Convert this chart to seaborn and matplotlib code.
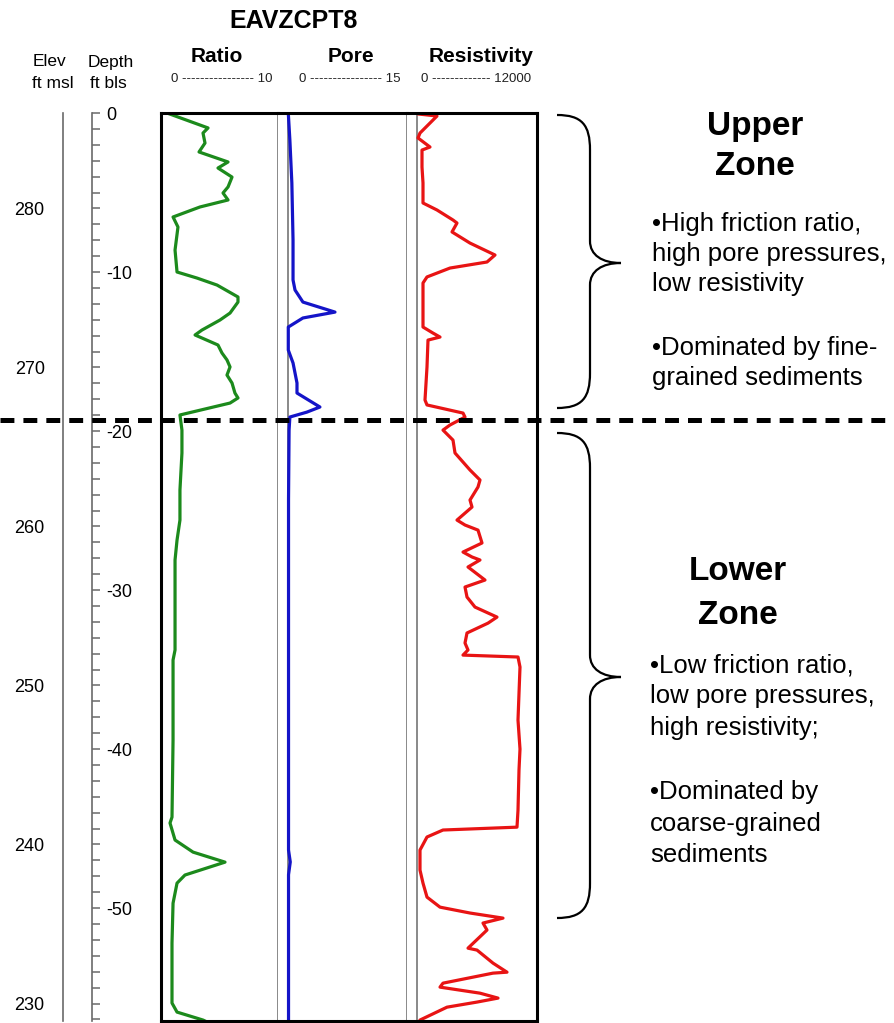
import matplotlib
matplotlib.use("Agg")
import matplotlib.pyplot as plt
import numpy as np
import pandas as pd
import seaborn as sns
from matplotlib.path import Path
from matplotlib.patches import PathPatch
from matplotlib.lines import Line2D
from matplotlib import transforms
from matplotlib.ticker import MultipleLocator, FuncFormatter

# ---------------- CPT log data (depth in ft below land surface) ----------------
ratio_depth = [0.0, -0.94, -1.26, -1.89, -2.45, -3.08, -3.46, -4.03, -4.65, -5.03,
               -5.47, -5.91, -6.54, -7.17, -8.62, -10.0, -10.38, -10.82, -11.57, -11.89,
               -12.58, -13.02, -13.65, -13.96, -14.59, -15.09, -15.53, -15.97, -16.48, -16.98,
               -17.61, -17.92, -18.24, -18.99, -19.94, -21.38, -23.71, -25.60, -26.86, -28.11,
               -33.77, -34.40, -39.43, -44.28, -44.65, -45.72, -46.48, -47.11, -47.92, -48.43,
               -49.69, -52.20, -55.97, -56.54, -57.04, -57.40]
ratio_vals = [0.51, 4.02, 3.59, 3.76, 3.25, 5.73, 4.87, 6.07, 5.73, 5.30,
              5.73, 3.33, 1.03, 1.45, 1.20, 1.37, 3.08, 4.79, 6.58, 6.58,
              5.90, 5.04, 3.50, 2.91, 4.87, 5.21, 5.64, 5.90, 5.64, 6.07,
              6.32, 6.58, 5.90, 1.62, 1.79, 1.79, 1.62, 1.62, 1.37, 1.20,
              1.20, 1.03, 1.03, 0.94, 0.77, 1.20, 2.74, 5.47, 2.05, 1.37,
              1.03, 0.94, 0.94, 1.37, 3.59, 4.60]

pore_depth = [0.0, -1.70, -4.40, -7.99, -10.50, -11.13, -11.89, -12.52, -12.89, -13.46,
              -14.91, -15.72, -16.98, -17.61, -18.49, -18.81, -19.12, -19.94, -24.30, -46.35,
              -47.10, -47.90, -57.40]
pore_vals = [0.0, 0.2, 0.45, 0.6, 0.6, 0.85, 1.85, 5.9, 1.85, 0.0,
             0.0, 0.6, 1.1, 1.1, 4.0, 2.35, 0.2, 0.1, 0.03, 0.03,
             0.25, 0.03, 0.03]

res_depth = [-0.06, -0.19, -1.26, -1.57, -2.14, -2.33, -3.40, -4.40, -5.66, -6.10,
             -6.73, -6.92, -7.48, -8.18, -8.93, -9.37, -9.75, -10.31, -10.69, -13.46,
             -13.84, -14.09, -14.28, -15.97, -18.05, -18.36, -18.87, -19.12, -19.62, -19.94,
             -20.57, -21.38, -22.45, -23.08, -23.52, -24.34, -24.78, -25.60, -25.91, -26.23,
             -27.04, -27.61, -27.92, -28.11, -28.55, -29.37, -29.81, -30.44, -31.07, -31.70,
             -32.08, -32.70, -33.33, -33.77, -34.09, -34.21, -34.84, -36.50, -38.18, -40.00,
             -41.32, -43.84, -44.91, -45.09, -45.53, -46.35, -47.61, -48.43, -49.31, -49.94,
             -50.31, -50.63, -50.94, -51.38, -52.52, -52.64, -53.46, -54.03, -54.09, -54.72,
             -54.97, -55.35, -55.66, -55.91, -56.23, -57.04, -57.40]
res_vals = [100, 2000, 300, 100, 1300, 500, 500, 600, 600, 2000,
            3600, 4000, 3500, 5300, 7800, 7000, 3300, 1000, 600, 600,
            1600, 2300, 1100, 1000, 800, 1000, 4600, 4800, 3300, 2600,
            3600, 3800, 5300, 6300, 6100, 5300, 5500, 4000, 4800, 6100,
            6500, 4600, 5500, 6300, 5100, 6800, 4800, 5000, 5800, 8000,
            7100, 5000, 4800, 5100, 4600, 10100, 10300, 10200, 10100, 10300,
            10200, 10100, 10000, 2600, 1000, 300, 300, 600, 1000, 2300,
            5300, 8600, 6600, 7000, 5100, 6000, 7600, 9000, 7600, 2600,
            2300, 6300, 8100, 6000, 3000, 300, 100]

track_titles = ["Ratio", "Pore", "Resistivity"]
track_scales = ["0 " + "-" * 16 + " 10", "0 " + "-" * 16 + " 15", "0 " + "-" * 13 + " 12000"]
surface_elev = 286.0      # ft msl at depth 0
zone_boundary = -19.3     # ft bls
depth_bottom = -57.1

upper_lines = ["\u2022High friction ratio,", "high pore pressures,", "low resistivity",
               "\u2022Dominated by fine-", "grained sediments"]
lower_lines = ["\u2022Low friction ratio,", "low pore pressures,", "high resistivity;",
               "\u2022Dominated by", "coarse-grained", "sediments"]

# ---------------- styling ----------------
sns.set_theme(style="white")
plt.rcParams["font.family"] = ["Liberation Sans", "DejaVu Sans"]
plt.rcParams["axes.unicode_minus"] = False
plt.rcParams["lines.scale_dashes"] = False
plt.rcParams["text.color"] = "black"
plt.rcParams["ytick.labelcolor"] = "black"

W, H = 894, 1023
fig = plt.figure(figsize=(W / 100, H / 100), dpi=100)
fig.patch.set_facecolor("white")


def fx(px):
    return px / W


def fy(py):
    return 1 - py / H


def rect(l, t, r, b):
    return [l / W, 1 - b / H, (r - l) / W, (b - t) / H]


GREEN = "#1c8a1c"
BLUE = "#1414c8"
RED = "#e81414"
GRAY = "#6a6a6a"

ax_r = fig.add_axes(rect(161, 113, 278, 1021))
ax_p = fig.add_axes(rect(278, 113, 407, 1021))
ax_s = fig.add_axes(rect(407, 113, 537, 1021))

df_r = pd.DataFrame({"value": ratio_vals, "depth": ratio_depth})
df_p = pd.DataFrame({"value": pore_vals, "depth": pore_depth})
df_s = pd.DataFrame({"value": res_vals, "depth": res_depth})

ax_p.axvline(0, color=GRAY, lw=1.1, zorder=1)
ax_s.axvline(0, color=GRAY, lw=1.1, zorder=1)

sns.lineplot(data=df_r, x="value", y="depth", orient="y", sort=False, estimator=None,
             ax=ax_r, color=GREEN, lw=2.3)
sns.lineplot(data=df_p, x="value", y="depth", orient="y", sort=False, estimator=None,
             ax=ax_p, color=BLUE, lw=2.3)
sns.lineplot(data=df_s, x="value", y="depth", orient="y", sort=False, estimator=None,
             ax=ax_s, color=RED, lw=2.3)

ax_r.set_xlim(0, 10)
ax_p.set_xlim(-1.3, 15)
ax_s.set_xlim(-1000, 12000)

for ax in (ax_r, ax_p, ax_s):
    ax.set_ylim(depth_bottom, 0)
    ax.set_xticks([])
    ax.set_yticks([])
    ax.set_xlabel("")
    ax.set_ylabel("")
    for s in ax.spines.values():
        s.set_visible(True)
        s.set_color("black")
        s.set_linewidth(2.2)

ax_r.spines["right"].set_color(GRAY)
ax_r.spines["right"].set_linewidth(1.1)
ax_p.spines["left"].set_visible(False)
ax_p.spines["right"].set_color(GRAY)
ax_p.spines["right"].set_linewidth(1.1)
ax_s.spines["left"].set_visible(False)

# ---------------- depth axis (ft bls) ----------------
ax_d = fig.add_axes(rect(80, 113, 92, 1021))
ax_d.patch.set_visible(False)
for k, s in ax_d.spines.items():
    s.set_visible(k == "right")
ax_d.spines["right"].set_color(GRAY)
ax_d.spines["right"].set_linewidth(1.2)
ax_d.set_ylim(depth_bottom, 0)
ax_d.set_xticks([])
ax_d.yaxis.tick_right()
ax_d.yaxis.set_major_locator(MultipleLocator(10))
ax_d.yaxis.set_minor_locator(MultipleLocator(1))
ax_d.yaxis.set_major_formatter(FuncFormatter(lambda v, p: f"{int(round(v))}"))
ax_d.tick_params(axis="y", which="both", direction="out", color=GRAY, width=1.1,
                 labelsize=13, labelcolor="black", right=True, left=False)
ax_d.tick_params(axis="y", which="major", length=6.0, pad=4)
ax_d.tick_params(axis="y", which="minor", length=5.5)

# ---------------- elevation axis (ft msl) ----------------
ax_e = fig.add_axes(rect(63, 113, 75, 1021))
ax_e.patch.set_visible(False)
for k, s in ax_e.spines.items():
    s.set_visible(k == "left")
ax_e.spines["left"].set_color(GRAY)
ax_e.spines["left"].set_linewidth(1.2)
ax_e.set_ylim(surface_elev + depth_bottom, surface_elev)
ax_e.set_xticks([])
ax_e.yaxis.set_major_locator(MultipleLocator(10))
ax_e.yaxis.set_minor_locator(MultipleLocator(5))
ax_e.yaxis.set_major_formatter(FuncFormatter(lambda v, p: f"{int(round(v))}"))
ax_e.tick_params(axis="y", which="both", direction="out", color=GRAY, width=1.1,
                 labelsize=13, labelcolor="black")
ax_e.tick_params(axis="y", which="major", length=7.2, pad=6)
ax_e.tick_params(axis="y", which="minor", length=4.3)

# ---------------- header ----------------
fig.text(fx(294), fy(21), "EAVZCPT8", ha="center", va="center", fontsize=18,
         fontweight="bold", color="black")
for cx, title in zip([217, 351, 481], track_titles):
    fig.text(fx(cx), fy(57), title, ha="center", va="center", fontsize=15,
             fontweight="bold", color="black")
for cx, scale in zip([222, 350, 476], track_scales):
    fig.text(fx(cx), fy(79), scale, ha="center", va="center", fontsize=9.5, color="#202020")

fig.text(fx(50), fy(62), "Elev", ha="center", va="center", fontsize=12.5, color="black")
fig.text(fx(53), fy(84), "ft msl", ha="center", va="center", fontsize=12.5, color="black")
fig.text(fx(111), fy(62), "Depth", ha="center", va="center", fontsize=12.5, color="black")
fig.text(fx(108), fy(84), "ft bls", ha="center", va="center", fontsize=12.5, color="black")

# ---------------- zone boundary ----------------
trans = transforms.blended_transform_factory(fig.transFigure, ax_r.transData)
fig.add_artist(Line2D([0, 1], [zone_boundary, zone_boundary], transform=trans,
                      color="black", lw=3.6, dashes=(10, 6.5), clip_on=False, zorder=10))


# ---------------- braces ----------------
def brace(x0, xv, xt, ytop, ybot, ytip):
    verts = [
        (x0, ytop),
        (x0 + 25, ytop), (xv, ytop + 10), (xv, ytop + 35),
        (xv, ytip - 22),
        (xv, ytip - 8), (xv + 12, ytip), (xt, ytip),
        (xv + 12, ytip), (xv, ytip + 8), (xv, ytip + 22),
        (xv, ybot - 35),
        (xv, ybot - 10), (x0 + 25, ybot), (x0, ybot),
    ]
    codes = [Path.MOVETO, Path.CURVE4, Path.CURVE4, Path.CURVE4, Path.LINETO,
             Path.CURVE4, Path.CURVE4, Path.CURVE4, Path.CURVE4, Path.CURVE4, Path.CURVE4,
             Path.LINETO, Path.CURVE4, Path.CURVE4, Path.CURVE4]
    verts = [(fx(a), fy(b)) for a, b in verts]
    patch = PathPatch(Path(verts, codes), fill=False, lw=1.6, edgecolor="black",
                      transform=fig.transFigure)
    fig.add_artist(patch)


brace(557, 590, 621, 115, 408, 263)
brace(557, 590, 621, 433, 918, 677)

# ---------------- zone annotations ----------------
fig.text(fx(755), fy(135), "Upper", ha="center", va="baseline", fontsize=24,
         fontweight="bold", color="black")
fig.text(fx(755), fy(175), "Zone", ha="center", va="baseline", fontsize=24,
         fontweight="bold", color="black")
for yb, line in zip([231, 261, 291, 355, 385], upper_lines):
    fig.text(fx(652), fy(yb), line, ha="left", va="baseline", fontsize=18.5, color="black")

fig.text(fx(738), fy(580), "Lower", ha="center", va="baseline", fontsize=24,
         fontweight="bold", color="black")
fig.text(fx(738), fy(624), "Zone", ha="center", va="baseline", fontsize=24,
         fontweight="bold", color="black")
for yb, line in zip([672, 703.5, 735, 799, 830.5, 862], lower_lines):
    fig.text(fx(650), fy(yb), line, ha="left", va="baseline", fontsize=18.5, color="black")

fig.savefig("out.png", dpi=100, facecolor="white")
